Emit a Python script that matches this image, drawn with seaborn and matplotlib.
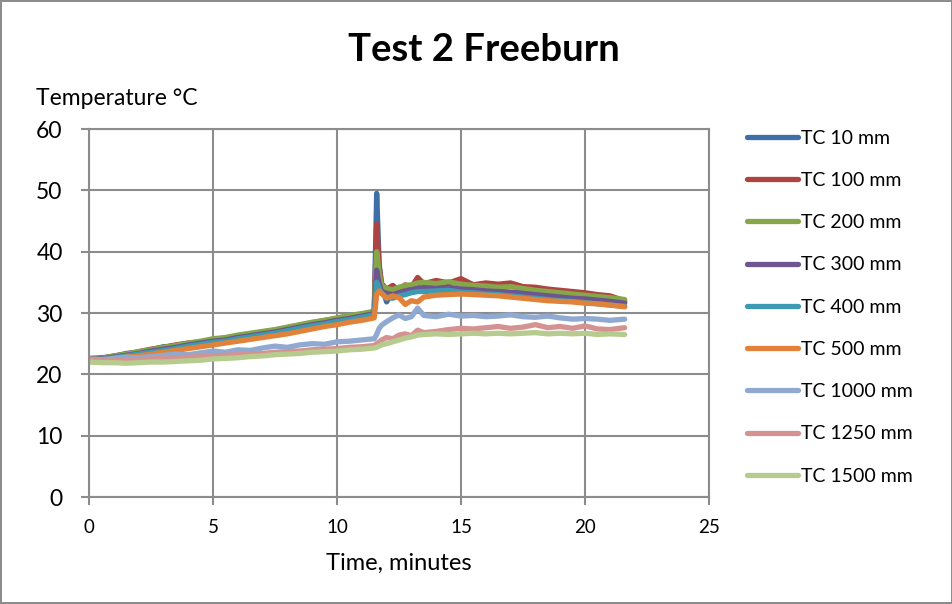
import pandas as pd
import numpy as np
import seaborn as sns
import matplotlib.pyplot as plt

# time axis (minutes), denser around the spike
time_min = [0, 0.5, 1, 1.5, 2, 2.5, 3, 3.5, 4, 4.5, 5, 5.5, 6, 6.5, 7, 7.5, 8, 8.5,
            9, 9.5, 10, 10.5, 11, 11.5, 11.6, 11.7, 11.8, 12.0, 12.25, 12.5, 12.75,
            13, 13.25, 13.5, 14, 14.5, 15, 15.5, 16, 16.5, 17, 17.5, 18, 18.5, 19,
            19.5, 20, 20.5, 21, 21.6]

tc_10 = [22.6, 22.7, 22.9, 23.4, 23.6, 24.0, 24.5, 24.6, 25.0, 25.2, 25.6, 25.7, 26.1, 26.4,
         26.8, 27.0, 27.4, 27.8, 28.2, 28.5, 28.9, 29.3, 29.6, 30.1, 49.5, 38.0, 34.5, 31.8,
         33.5, 33.2, 33.4, 33.8, 34.2, 34.0, 34.3, 34.0, 33.8, 33.9, 33.6, 33.5, 33.3, 33.4,
         33.1, 33.0, 32.8, 32.9, 32.5, 32.3, 32.2, 31.8]
tc_100 = [22.5, 22.6, 23.0, 23.3, 23.7, 24.1, 24.4, 24.8, 25.1, 25.3, 25.7, 25.9, 26.3, 26.6,
          26.9, 27.2, 27.6, 28.0, 28.4, 28.8, 29.1, 29.5, 29.8, 30.2, 44.5, 37.5, 34.8, 33.9,
          34.5, 33.6, 34.6, 34.2, 35.8, 34.8, 35.3, 34.9, 35.6, 34.6, 34.9, 34.7, 34.9, 34.3,
          34.2, 33.9, 33.7, 33.5, 33.3, 33.0, 32.8, 32.0]
tc_200 = [22.4, 22.6, 23.0, 23.3, 23.7, 24.0, 24.4, 24.7, 25.1, 25.4, 25.8, 26.0, 26.4, 26.7,
          27.0, 27.3, 27.7, 28.1, 28.5, 28.8, 29.2, 29.6, 29.9, 30.3, 40.0, 36.5, 34.5, 34.0,
          33.8, 34.2, 34.5, 34.6, 34.9, 35.0, 34.8, 35.1, 34.7, 34.5, 34.4, 34.2, 34.3, 34.0,
          33.7, 33.5, 33.3, 33.1, 32.9, 32.7, 32.5, 32.2]
tc_300 = [22.4, 22.5, 22.8, 23.1, 23.4, 23.8, 24.1, 24.4, 24.8, 25.1, 25.4, 25.6, 26.0, 26.3,
          26.6, 26.9, 27.3, 27.7, 28.1, 28.4, 28.8, 29.1, 29.5, 29.9, 37.0, 34.8, 33.5, 33.2,
          33.0, 33.3, 33.6, 33.8, 34.0, 34.1, 34.0, 34.2, 33.9, 33.8, 33.6, 33.5, 33.4, 33.2,
          33.0, 32.8, 32.6, 32.4, 32.3, 32.1, 31.9, 31.6]
tc_400 = [22.3, 22.4, 22.7, 23.0, 23.3, 23.6, 23.9, 24.2, 24.6, 24.9, 25.2, 25.4, 25.8, 26.1,
          26.4, 26.7, 27.1, 27.5, 27.9, 28.2, 28.6, 28.9, 29.3, 29.7, 35.0, 34.0, 33.2, 32.6,
          32.4, 32.8, 33.0, 33.3, 33.5, 33.5, 33.6, 33.7, 33.4, 33.3, 33.1, 33.0, 32.8, 32.6,
          32.4, 32.2, 32.0, 31.9, 31.7, 31.5, 31.3, 31.1]
tc_500 = [22.2, 22.3, 22.5, 22.8, 23.0, 23.3, 23.6, 23.9, 24.2, 24.5, 24.8, 25.1, 25.4, 25.7,
          26.0, 26.3, 26.6, 27.0, 27.4, 27.8, 28.1, 28.5, 28.8, 29.2, 33.0, 33.6, 33.2, 32.4,
          32.8, 32.5, 31.4, 32.0, 31.8, 32.6, 32.9, 33.0, 33.1, 33.0, 32.9, 32.8, 32.6, 32.4,
          32.2, 32.0, 31.9, 31.8, 31.6, 31.5, 31.3, 31.0]
tc_1000 = [22.5, 22.4, 22.6, 22.8, 22.7, 22.9, 23.1, 23.3, 23.2, 23.5, 23.8, 23.6, 24.0, 23.9,
           24.3, 24.6, 24.4, 24.8, 25.0, 24.9, 25.3, 25.4, 25.6, 25.8, 26.5, 27.5, 28.0, 28.6,
           29.2, 29.7, 29.1, 29.4, 30.8, 29.6, 29.4, 29.8, 29.5, 29.6, 29.4, 29.5, 29.7, 29.4,
           29.3, 29.5, 29.2, 29.0, 29.1, 29.0, 28.8, 29.0]
tc_1250 = [22.3, 22.2, 22.3, 22.4, 22.4, 22.5, 22.6, 22.7, 22.8, 22.9, 23.0, 23.1, 23.2, 23.3,
           23.4, 23.6, 23.7, 23.8, 24.0, 24.1, 24.2, 24.4, 24.5, 24.7, 25.0, 25.3, 25.6, 26.0,
           25.8, 26.4, 26.6, 26.3, 27.2, 26.8, 27.0, 27.3, 27.5, 27.4, 27.6, 27.8, 27.5, 27.7,
           28.1, 27.6, 27.8, 27.5, 27.9, 27.4, 27.3, 27.6]
tc_1500 = [22.0, 21.9, 21.9, 21.8, 21.9, 22.0, 22.0, 22.1, 22.2, 22.3, 22.5, 22.6, 22.7, 22.9,
           23.0, 23.2, 23.3, 23.4, 23.6, 23.7, 23.8, 24.0, 24.1, 24.3, 24.4, 24.6, 24.8, 25.0,
           25.3, 25.6, 25.9, 26.1, 26.4, 26.5, 26.6, 26.5, 26.6, 26.7, 26.6, 26.7, 26.6, 26.7,
           26.8, 26.6, 26.7, 26.6, 26.7, 26.5, 26.6, 26.5]

series_names = ['TC 10 mm', 'TC 100 mm', 'TC 200 mm', 'TC 300 mm', 'TC 400 mm',
                'TC 500 mm', 'TC 1000 mm', 'TC 1250 mm', 'TC 1500 mm']
series_values = [tc_10, tc_100, tc_200, tc_300, tc_400, tc_500, tc_1000, tc_1250, tc_1500]
colors = ['#3F6FA8', '#AE4340', '#86A64A', '#6E5590', '#3C9AB2',
          '#E0823A', '#8FA9D1', '#D49290', '#B5CC8E']

# long format for seaborn
frames = []
for name, vals in zip(series_names, series_values):
    frames.append(pd.DataFrame({'Time': time_min, 'Temp': vals, 'Series': name}))
df = pd.concat(frames, ignore_index=True)

sns.set_style('white')
plt.rcParams['font.family'] = ['Lato', 'DejaVu Sans']
plt.rcParams['text.color'] = 'black'
plt.rcParams['axes.labelcolor'] = 'black'
plt.rcParams['xtick.labelcolor'] = 'black'
plt.rcParams['ytick.labelcolor'] = 'black'

fig = plt.figure(figsize=(9.53, 6.04), dpi=100)
fig.patch.set_edgecolor('#8C8C8C')
fig.patch.set_linewidth(1.5)
ax = fig.add_axes([89 / 953, 1 - 497 / 604, 620 / 953, 368 / 604])

sns.lineplot(data=df, x='Time', y='Temp', hue='Series', hue_order=series_names,
             palette=dict(zip(series_names, colors)), linewidth=3.8, ax=ax,
             estimator=None, sort=False)

ax.set_xlim(0, 25)
ax.set_ylim(0, 60)
ax.set_xticks(range(0, 26, 5))
ax.set_yticks(range(0, 61, 10))
ax.grid(True, color='#8C8C8C', linewidth=1.5)
ax.set_axisbelow(True)
for sp in ax.spines.values():
    sp.set_color('#8C8C8C')
    sp.set_linewidth(1.5)
ax.tick_params(axis='x', labelsize=13.5, length=6, width=1.5, color='#8C8C8C', direction='out', bottom=True, pad=10)
ax.tick_params(axis='y', labelsize=16.5, length=6, width=1.5, color='#8C8C8C', direction='out', left=True, pad=13)

ax.set_xlabel('Time, minutes', fontsize=17, labelpad=12)
ax.set_ylabel('')
fig.text(36 / 953, 1 - 98 / 604, 'Temperature °C', fontsize=16.5, va='center', ha='left')
fig.text(484 / 953, 1 - 50 / 604, 'Test 2 Freeburn', fontsize=27.5, fontweight='bold',
         ha='center', va='center')

ax.legend(loc='upper left', bbox_to_anchor=(730 / 953, 1 - 112 / 604),
          bbox_transform=fig.transFigure, frameon=False, fontsize=14,
          handlelength=2.6, handletextpad=0.15, labelspacing=1.3)

fig.savefig('out.png', dpi=100)
